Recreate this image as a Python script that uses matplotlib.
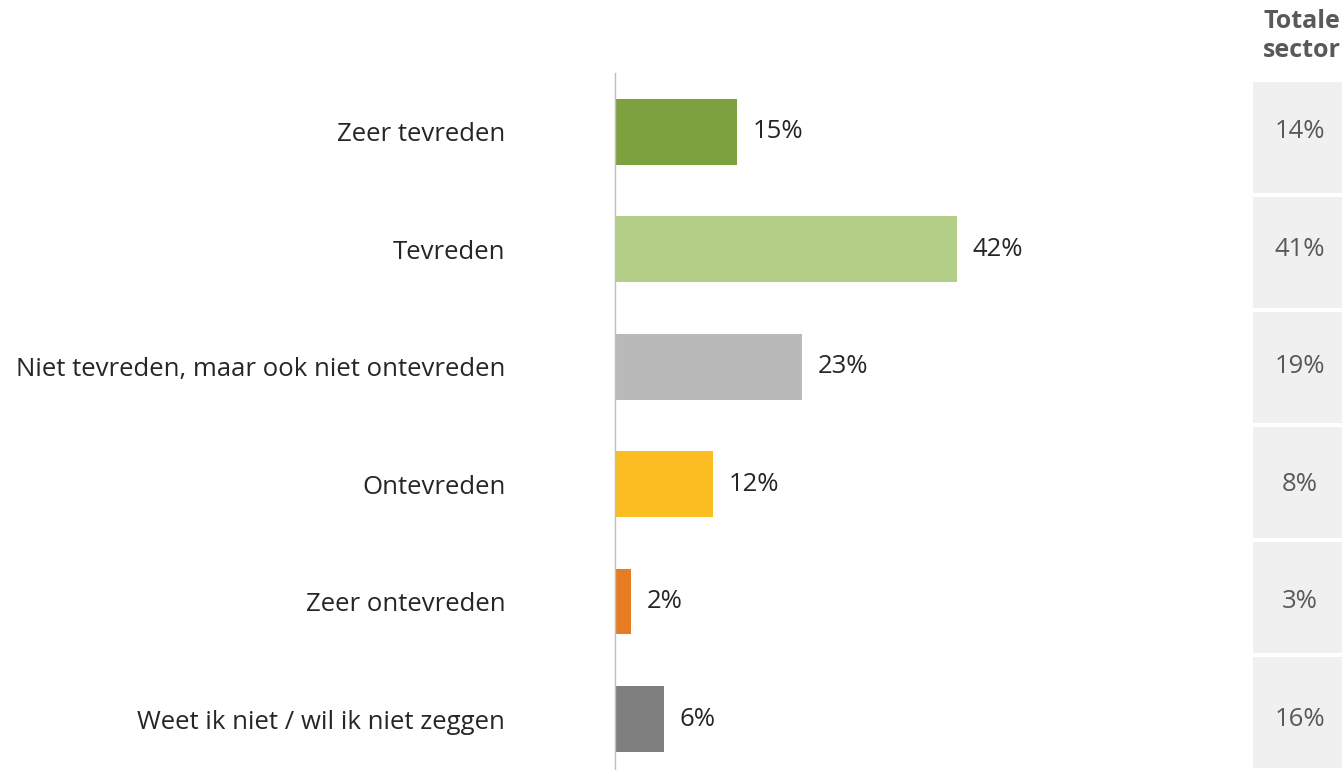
import matplotlib.pyplot as plt
from matplotlib.transforms import blended_transform_factory

plt.rcParams['font.family'] = ['Open Sans', 'DejaVu Sans']

categories = ["Zeer tevreden", "Tevreden", "Niet tevreden, maar ook niet ontevreden",
              "Ontevreden", "Zeer ontevreden", "Weet ik niet / wil ik niet zeggen"]
values = [15, 42, 23, 12, 2, 6]
sector_values = [14, 41, 19, 8, 3, 16]
colors = ["#7DA13F", "#B3CE87", "#B9B9BA", "#FBBD22", "#E77C22", "#7F7F7F"]
sector_title = "Totale\nsector"

W, H = 1342, 770
fig = plt.figure(figsize=(W / 100, H / 100), dpi=100)

# main bar panel
ax = fig.add_axes([615 / W, 0, (1240 - 615) / W, (770 - 73) / H])
y = list(range(len(categories)))
ax.barh(y, values, height=0.56, color=colors)
ax.set_xlim(0, 625 / 8.15)
ax.set_ylim(5.434, -0.5)
for s in ("top", "right", "bottom"):
    ax.spines[s].set_visible(False)
ax.spines["left"].set_color("#BFBFBF")
ax.spines["left"].set_linewidth(1.0)
ax.set_xticks([])
ax.set_yticks(y)
ax.set_yticklabels(categories, fontsize=18.5, color="#262626")
ax.tick_params(axis="y", length=0, pad=79)
for yi, v in zip(y, values):
    ax.text(v + 1.9, yi, f"{v}%", va="center", ha="left", fontsize=18.5, color="#262626")

# side panel with sector totals
ax2 = fig.add_axes([1253 / W, 0, (W - 1253) / W, (770 - 80) / H])
ax2.barh(y, [1] * len(y), height=0.97, color="#F0F0F0")
ax2.set_xlim(0, 1)
ax2.set_ylim(5.5, -0.5)
ax2.axis("off")
tr = blended_transform_factory(ax2.transAxes, ax.transData)
for yi, v in zip(y, sector_values):
    ax2.text(0.53, yi, f"{v}%", va="center", ha="center", fontsize=18.5,
             color="#595959", transform=tr)
fig.text(1302 / W, 1 - 36 / H, sector_title, ha="center", va="center", fontsize=18,
         fontweight="bold", color="#595959", linespacing=1.2)

fig.savefig("out.png", dpi=100)
